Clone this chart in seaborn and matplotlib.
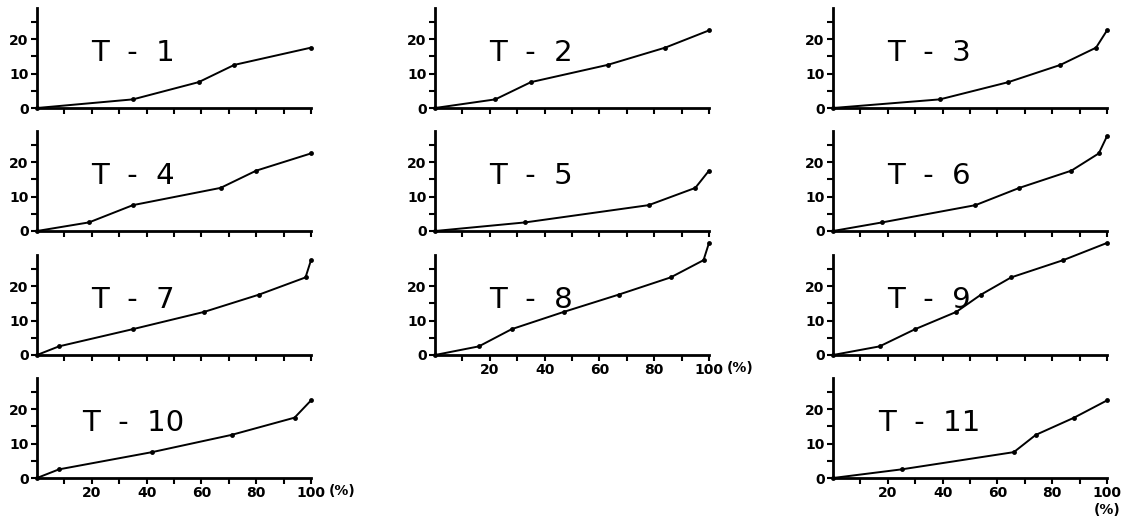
import matplotlib
matplotlib.use("Agg")
import matplotlib.pyplot as plt
import matplotlib.transforms as mtransforms
import seaborn as sns

sns.set_style("ticks")
plt.rcParams["font.family"] = ["DejaVu Sans"]
plt.rcParams["text.color"] = "black"
plt.rcParams["xtick.color"] = "black"
plt.rcParams["ytick.color"] = "black"

# cumulative curves: x = percent, y = value
T1_x = [0, 35, 59, 72, 100]
T1_y = [0, 2.5, 7.5, 12.5, 17.5]
T2_x = [0, 22, 35, 63, 84, 100]
T2_y = [0, 2.5, 7.5, 12.5, 17.5, 22.5]
T3_x = [0, 39, 64, 83, 96, 100]
T3_y = [0, 2.5, 7.5, 12.5, 17.5, 22.5]
T4_x = [0, 19, 35, 67, 80, 100]
T4_y = [0, 2.5, 7.5, 12.5, 17.5, 22.5]
T5_x = [0, 33, 78, 95, 100]
T5_y = [0, 2.5, 7.5, 12.5, 17.5]
T6_x = [0, 18, 52, 68, 87, 97, 100]
T6_y = [0, 2.5, 7.5, 12.5, 17.5, 22.5, 27.5]
T7_x = [0, 8, 35, 61, 81, 98, 100]
T7_y = [0, 2.5, 7.5, 12.5, 17.5, 22.5, 27.5]
T8_x = [0, 16, 28, 47, 67, 86, 98, 100]
T8_y = [0, 2.5, 7.5, 12.5, 17.5, 22.5, 27.5, 32.5]
T9_x = [0, 17, 30, 45, 54, 65, 84, 100]
T9_y = [0, 2.5, 7.5, 12.5, 17.5, 22.5, 27.5, 32.5]
T10_x = [0, 8, 42, 71, 94, 100]
T10_y = [0, 2.5, 7.5, 12.5, 17.5, 22.5]
T11_x = [0, 25, 66, 74, 88, 100]
T11_y = [0, 2.5, 7.5, 12.5, 17.5, 22.5]

titles = ["T  -  1", "T  -  2", "T  -  3", "T  -  4", "T  -  5", "T  -  6",
          "T  -  7", "T  -  8", "T  -  9", "T  -  10", "T  -  11"]
series = [(T1_x, T1_y), (T2_x, T2_y), (T3_x, T3_y), (T4_x, T4_y),
          (T5_x, T5_y), (T6_x, T6_y), (T7_x, T7_y), (T8_x, T8_y),
          (T9_x, T9_y), (T10_x, T10_y), (T11_x, T11_y)]
# (column, row) of each panel
slots = [(0, 0), (1, 0), (2, 0), (0, 1), (1, 1), (2, 1),
         (0, 2), (1, 2), (2, 2), (0, 3), (2, 3)]
x_labelled = {"T  -  8": "side", "T  -  10": "side", "T  -  11": "below"}

W, H = 1126, 521
col_left = [37, 435, 833]
row_base = [108, 231, 355, 478]
ax_w, ax_h = 274, 100

fig = plt.figure(figsize=(W / 100, H / 100), dpi=100)

for title, (xs, ys), (c, r) in zip(titles, series, slots):
    ax = fig.add_axes([col_left[c] / W, 1 - row_base[r] / H, ax_w / W, ax_h / H])
    sns.lineplot(x=xs, y=ys, ax=ax, color="black", linewidth=1.4,
                 marker="o", markersize=3.5, markeredgewidth=0, clip_on=False)
    ax.set_xlim(0, 100)
    ax.set_ylim(0, 29)
    for side in ("top", "right"):
        ax.spines[side].set_visible(False)
    for side in ("left", "bottom"):
        ax.spines[side].set_linewidth(2)
        ax.spines[side].set_color("black")
    ax.set_xticks(range(10, 101, 10))
    ax.set_yticks([0, 5, 10, 15, 20, 25])
    ax.set_yticklabels(["0", "", "10", "", "20", ""])
    ax.tick_params(axis="both", direction="out", length=4, width=1.5,
                   color="black", labelcolor="black", labelsize=10, pad=2)
    for lab in ax.get_yticklabels():
        lab.set_fontweight("bold")
    if title in x_labelled:
        ax.set_xticklabels(["", "20", "", "40", "", "60", "", "80", "", "100"],
                           fontweight="bold")
        trans = mtransforms.blended_transform_factory(ax.transData, ax.transAxes)
        if x_labelled[title] == "side":
            ax.text(106.5, -0.06, "(%)", transform=trans, ha="left", va="top",
                    fontsize=10, fontweight="bold", color="black")
        else:
            ax.text(100, -0.25, "(%)", transform=trans, ha="center", va="top",
                    fontsize=10, fontweight="bold", color="black")
    else:
        ax.set_xticklabels([])
    ax.text(35, 16, title, ha="center", va="center", fontsize=21,
            fontweight="normal", color="black")
    ax.set_xlabel("")
    ax.set_ylabel("")

fig.savefig("out.png", dpi=100)
